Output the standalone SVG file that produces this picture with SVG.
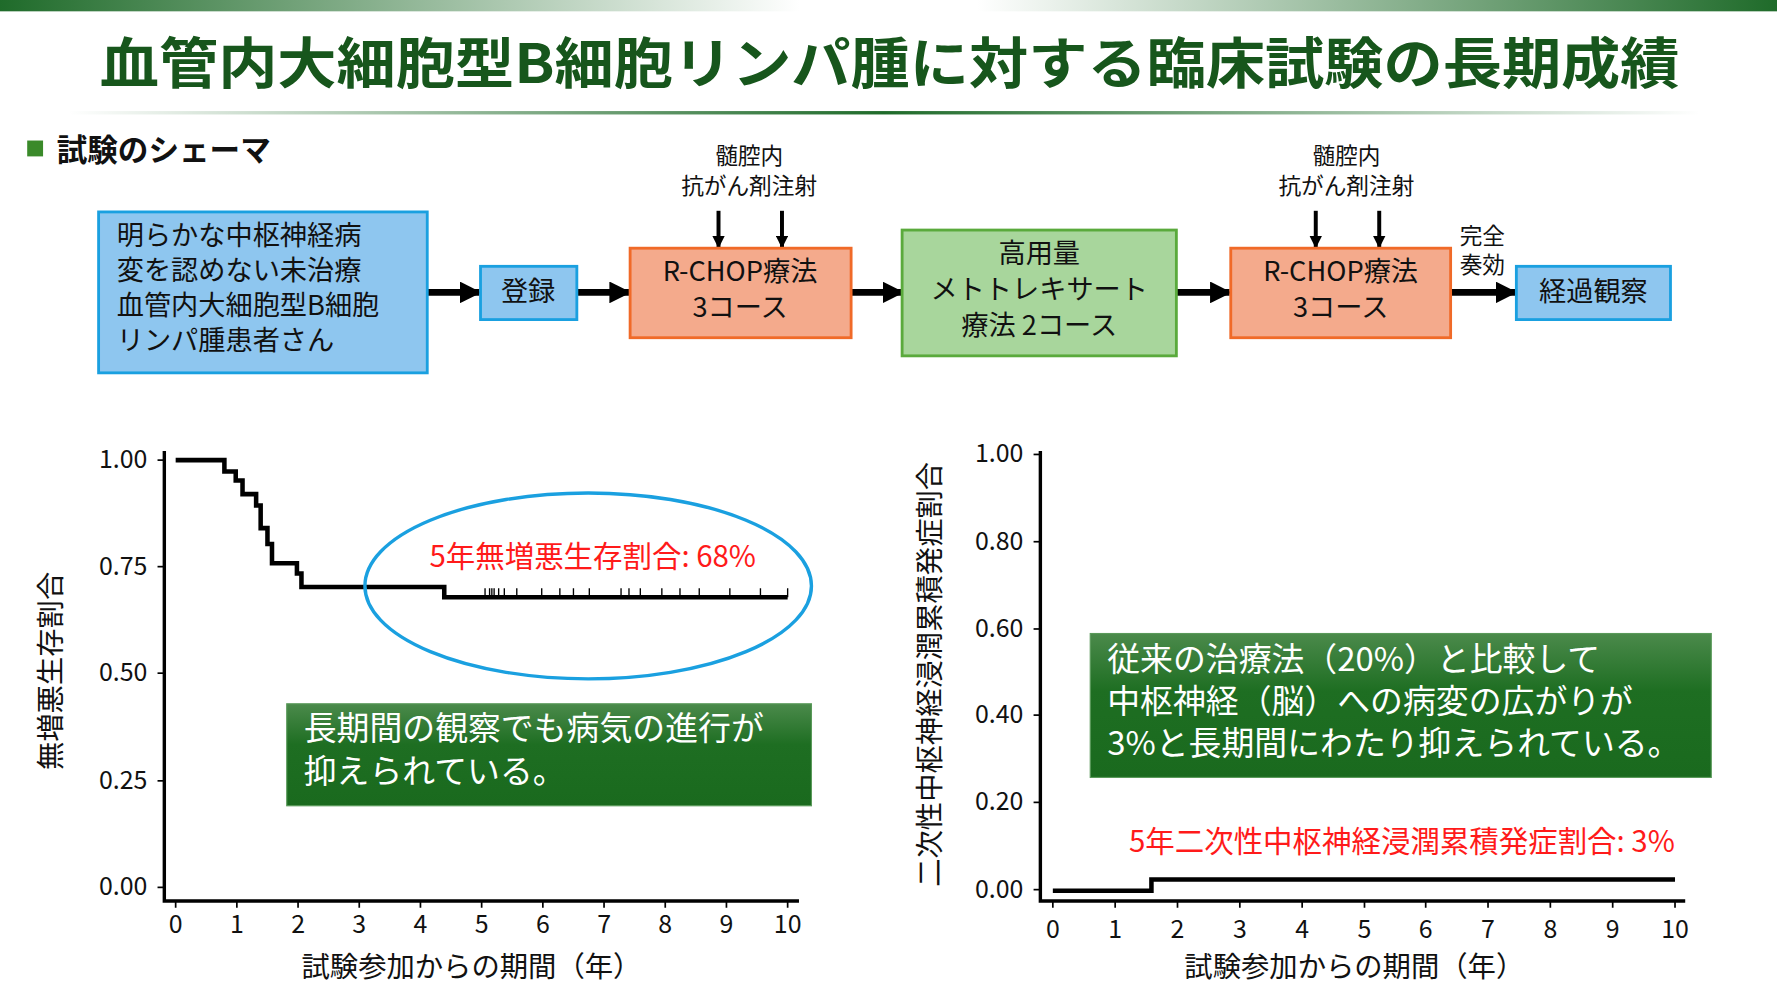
<svg xmlns="http://www.w3.org/2000/svg" width="1777" height="1000" viewBox="0 0 1777 1000">
<defs>
<linearGradient id="top" x1="0" x2="1"><stop offset="0" stop-color="#1f6b2a"/><stop offset="0.45" stop-color="#ffffff"/><stop offset="0.55" stop-color="#ffffff"/><stop offset="1" stop-color="#1f6b2a"/></linearGradient>
<linearGradient id="ul" x1="0" x2="1"><stop offset="0" stop-color="#1f6b2a" stop-opacity="0"/><stop offset="0.5" stop-color="#1f6b2a"/><stop offset="1" stop-color="#1f6b2a" stop-opacity="0"/></linearGradient>
<linearGradient id="gb" x1="0" y1="0" x2="0" y2="1"><stop offset="0" stop-color="#4b8a4b"/><stop offset="0.4" stop-color="#1e6e22"/><stop offset="1" stop-color="#1a6a1e"/></linearGradient>
<marker id="ah" viewBox="0 0 10 10" refX="9" refY="5" markerWidth="3.2" markerHeight="3.2" orient="auto"><path d="M0,0L10,5L0,10z" fill="#000"/></marker>
</defs>
<style>
text{font-family:"Noto Sans CJK JP","Liberation Sans",sans-serif;}
.blue{fill:#8ec6ef;stroke:#1aa0e0;stroke-width:2.5}
.org{fill:#f4aa8c;stroke:#f06a28;stroke-width:2.5}
.grn{fill:#a8d69c;stroke:#5aaa3c;stroke-width:2.5}
.bt{font-size:24px;fill:#111}
.sm{font-size:20px;fill:#111}
.ar{stroke:#000;stroke-width:6;fill:none;marker-end:url(#ah)}
.dar{stroke:#000;stroke-width:3.5;fill:none;marker-end:url(#ah)}
.ax{stroke:#000;stroke-width:3;fill:none}
.tk{stroke:#000;stroke-width:1.5}
.tl{font-size:22px;fill:#111}
.at{font-size:25px;fill:#111}
.cv{stroke:#000;stroke-width:4;fill:none}
.wt{font-size:29px;fill:#fff}
.red{font-size:26px;fill:#ff1a1a}
</style>
<g transform="scale(1.1333)">
<rect x="0" y="0" width="1568" height="10" fill="url(#top)"/>
<text x="88" y="73" textLength="1394" lengthAdjust="spacingAndGlyphs" font-size="48" font-weight="bold" fill="#17561c">血管内大細胞型B細胞リンパ腫に対する臨床試験の長期成績</text>
<rect x="60" y="98" width="1440" height="3" fill="url(#ul)"/>
<rect x="24" y="124" width="14" height="14" fill="#3a8a2a"/>
<text x="50" y="142" font-size="27" font-weight="bold" fill="#111">試験のシェーマ</text>

<g id="conn">
<line class="ar" x1="377" y1="258" x2="423" y2="258"/>
<line class="ar" x1="509" y1="258" x2="555" y2="258"/>
<line class="ar" x1="751" y1="258" x2="796" y2="258"/>
<line class="ar" x1="1038" y1="258" x2="1085" y2="258"/>
<line class="ar" x1="1281" y1="258" x2="1337" y2="258"/>
<line class="dar" x1="634" y1="186" x2="634" y2="218"/>
<line class="dar" x1="690" y1="186" x2="690" y2="218"/>
<line class="dar" x1="1161" y1="186" x2="1161" y2="218"/>
<line class="dar" x1="1217" y1="186" x2="1217" y2="218"/>
</g>

<g id="n1"><rect class="blue" x="87" y="187" width="290" height="142"/>
<text class="bt" x="103" y="216">明らかな中枢神経病</text><text class="bt" x="103" y="247">変を認めない未治療</text><text class="bt" x="103" y="278">血管内大細胞型B細胞</text><text class="bt" x="103" y="309">リンパ腫患者さん</text></g>
<g id="n2"><rect class="blue" x="424" y="235" width="85" height="47"/><text class="bt" x="466" y="266" text-anchor="middle">登録</text></g>
<g id="n3"><rect class="org" x="556" y="219" width="195" height="79"/><text class="bt" x="653" y="248" text-anchor="middle">R-CHOP療法</text><text class="bt" x="653" y="280" text-anchor="middle">3コース</text></g>
<g id="l1"><text class="sm" x="661" y="145" text-anchor="middle">髄腔内</text><text class="sm" x="661" y="171" text-anchor="middle">抗がん剤注射</text></g>
<g id="n4"><rect class="grn" x="796" y="203" width="242" height="111"/><text class="bt" x="917" y="232" text-anchor="middle">高用量</text><text class="bt" x="917" y="264" text-anchor="middle">メトトレキサート</text><text class="bt" x="917" y="296" text-anchor="middle">療法 2コース</text></g>
<g id="n5"><rect class="org" x="1086" y="219" width="194" height="79"/><text class="bt" x="1183" y="248" text-anchor="middle">R-CHOP療法</text><text class="bt" x="1183" y="280" text-anchor="middle">3コース</text></g>
<g id="l2"><text class="sm" x="1188" y="145" text-anchor="middle">髄腔内</text><text class="sm" x="1188" y="171" text-anchor="middle">抗がん剤注射</text></g>
<g id="l3"><text class="sm" x="1308" y="215" text-anchor="middle">完全</text><text class="sm" x="1308" y="241" text-anchor="middle">奏効</text></g>
<g id="n6"><rect class="blue" x="1338" y="235" width="136" height="47"/><text class="bt" x="1406" y="266" text-anchor="middle">経過観察</text></g>

<g id="chart1">
<path class="ax" d="M145,398V795H705"/>
<g class="tk"><line x1="139" y1="406" x2="145" y2="406"/><line x1="139" y1="500" x2="145" y2="500"/><line x1="139" y1="594" x2="145" y2="594"/><line x1="139" y1="689" x2="145" y2="689"/><line x1="139" y1="783" x2="145" y2="783"/>
<path d="M155,795v6M209,795v6M263,795v6M317,795v6M371,795v6M425,795v6M479,795v6M533,795v6M587,795v6M641,795v6M695,795v6"/></g>
<g class="tl" text-anchor="end"><text x="130" y="413">1.00</text><text x="130" y="507">0.75</text><text x="130" y="601">0.50</text><text x="130" y="696">0.25</text><text x="130" y="790">0.00</text></g>
<g class="tl" text-anchor="middle"><text x="155" y="823">0</text><text x="209" y="823">1</text><text x="263" y="823">2</text><text x="317" y="823">3</text><text x="371" y="823">4</text><text x="425" y="823">5</text><text x="479" y="823">6</text><text x="533" y="823">7</text><text x="587" y="823">8</text><text x="641" y="823">9</text><text x="695" y="823">10</text></g>
<text class="at" x="416" y="862" text-anchor="middle">試験参加からの期間（年）</text>
<text class="at" transform="translate(54,592) rotate(-90)" text-anchor="middle">無増悪生存割合</text>
<path class="cv" stroke-width="3.5" d="M155,406H198V416H208V424H214V436H226V446H230V466H236V480H240V497H262V506H266V518H392V527H695"/>
<path stroke="#000" stroke-width="1.2" d="M428,527v-8M432,527v-8M434,527v-8M436,527v-8M440,527v-8M445,527v-8M456,527v-8M478,527v-8M494,527v-8M506,527v-8M520,527v-8M548,527v-8M555,527v-8M565,527v-8M584,527v-8M600,527v-8M617,527v-8M644,527v-8M671,527v-8M695,527v-8"/>
<ellipse cx="519" cy="517" rx="197" ry="82" fill="none" stroke="#1aa0e0" stroke-width="3"/>
<text class="red" x="523" y="500" text-anchor="middle">5年無増悪生存割合: 68%</text>
<rect x="253" y="621" width="463" height="90" fill="url(#gb)" stroke="#5a9a5a" stroke-width="1"/>
<text class="wt" x="268" y="653">長期間の観察でも病気の進行が</text><text class="wt" x="268" y="691">抑えられている。</text>
</g>

<g id="chart2">
<path class="ax" d="M918,398V795H1487"/>
<g class="tk"><line x1="912" y1="401" x2="918" y2="401"/><line x1="912" y1="478" x2="918" y2="478"/><line x1="912" y1="555" x2="918" y2="555"/><line x1="912" y1="631" x2="918" y2="631"/><line x1="912" y1="708" x2="918" y2="708"/><line x1="912" y1="785" x2="918" y2="785"/>
<path d="M929,795v6M984,795v6M1039,795v6M1094,795v6M1149,795v6M1204,795v6M1258,795v6M1313,795v6M1368,795v6M1423,795v6M1478,795v6"/></g>
<g class="tl" text-anchor="end"><text x="903" y="408">1.00</text><text x="903" y="485">0.80</text><text x="903" y="562">0.60</text><text x="903" y="638">0.40</text><text x="903" y="715">0.20</text><text x="903" y="792">0.00</text></g>
<g class="tl" text-anchor="middle"><text x="929" y="828">0</text><text x="984" y="828">1</text><text x="1039" y="828">2</text><text x="1094" y="828">3</text><text x="1149" y="828">4</text><text x="1204" y="828">5</text><text x="1258" y="828">6</text><text x="1313" y="828">7</text><text x="1368" y="828">8</text><text x="1423" y="828">9</text><text x="1478" y="828">10</text></g>
<text class="at" x="1195" y="862" text-anchor="middle">試験参加からの期間（年）</text>
<text class="at" transform="translate(829,595) rotate(-90)" text-anchor="middle">二次性中枢神経浸潤累積発症割合</text>
<path class="cv" d="M929,786H1016V776H1478"/>
<text class="red" x="1237" y="752" text-anchor="middle">5年二次性中枢神経浸潤累積発症割合: 3%</text>
<rect x="962" y="559" width="548" height="127" fill="url(#gb)" stroke="#5a9a5a" stroke-width="1"/>
<text class="wt" x="977" y="592">従来の治療法（20%）と比較して</text><text class="wt" x="977" y="629">中枢神経（脳）への病変の広がりが</text><text class="wt" x="977" y="666">3%と長期間にわたり抑えられている。</text>
</g>
</g>
</svg>
